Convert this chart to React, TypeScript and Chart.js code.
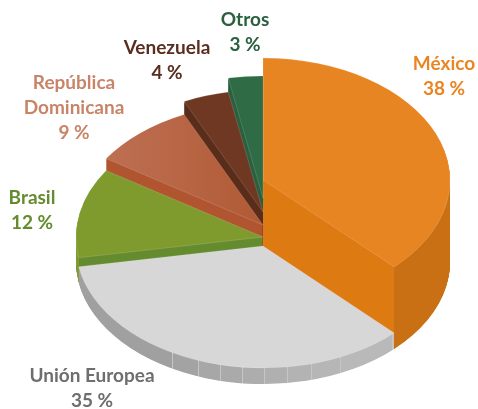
import { useEffect, useRef } from "react";
import { Chart, registerables } from "chart.js";

Chart.register(...registerables);

const categories: (string | string[])[] = ["México", "Unión Europea", "Brasil", ["República", "Dominicana"], "Venezuela", "Otros"];
const shares = [38, 35, 12, 9, 4, 3];
const shareLabels = ["38 %", "35 %", "12 %", "9 %", "4 %", "3 %"];

const topColors = ["#E88523", "#D7D7D7", "#7F9B2E", "#B65F3C", "#6E3823", "#2F6B45"];
const wallColors = ["#DD7A12", "#B0B0B0", "#648C2E", "#B05530", "#5A2D1A", "#2A6040"];
const rimColors = ["#C97014", "#B0B0B0", "#7F9B2E", "#B05530", "#5A2D1A", "#2A6040"];
const labelColors = ["#EB8523", "#6E6E6E", "#648C2E", "#C98468", "#5A2D1E", "#2A6040"];

// Styling of the stepped 3D look
const sliceHeights = [82, 16, 25, 37, 50, 64];
const drawOrder = [0, 5, 4, 3, 2, 1];
const labelCentres = [[444, 64], [92, 376], [32, 198], [74, 83], [167, 48], [245, 20]];
const LINE_GAP = 25;
const BASE_Y = 262;
const RADIUS = 187;
const SQUASH = 122 / 187;
const W = 478;
const H = 409;

function rimGradient(ctx: CanvasRenderingContext2D, i: number, edgeX: number) {
  const g = ctx.createLinearGradient(0, 0, W, 0);
  if (i === 1) {
    const facets = [77, 173, 199, 221, 243, 265, 288, 312, 341, 393];
    const greys = [160, 163, 167, 170, 173, 176, 179, 182, 185];
    for (let k = 0; k < greys.length; k++) {
      const c = `rgb(${greys[k]},${greys[k]},${greys[k]})`;
      g.addColorStop(facets[k] / W, c);
      g.addColorStop((facets[k + 1] - 0.8) / W, c);
      g.addColorStop((facets[k + 1] - 0.8) / W, "#C6C6C6");
      g.addColorStop(facets[k + 1] / W, "#C6C6C6");
    }
    return g;
  }
  const t = edgeX / W;
  // México shows its flat wall left of the edge, Brasil right of it
  const [a, b] = i === 0 ? [wallColors[i], rimColors[i]] : [rimColors[i], wallColors[i]];
  g.addColorStop(0, a);
  g.addColorStop(t, a);
  g.addColorStop(t, b);
  g.addColorStop(1, b);
  return g;
}

const stepped3d = {
  id: "stepped3d",
  beforeDatasetsDraw(chart: any) {
    const ctx: CanvasRenderingContext2D = chart.ctx;
    const arcs = chart.getDatasetMeta(0).data;
    for (const i of drawOrder) {
      const arc = arcs[i];
      const saved = arc.options;
      const angle = i === 0 ? arc.endAngle : arc.startAngle;
      const edgeX = arc.x + RADIUS * Math.cos(angle);
      const top = BASE_Y - sliceHeights[i];
      arc.options = { ...saved, backgroundColor: rimGradient(ctx, i, edgeX), borderWidth: 0 };
      for (let k = sliceHeights[i]; k >= 1; k -= 0.5) {
        ctx.save();
        ctx.translate(0, top + k);
        ctx.scale(1, SQUASH);
        ctx.translate(0, -arc.y);
        arc.draw(ctx);
        ctx.restore();
      }
      arc.options = saved;
      ctx.save();
      ctx.translate(0, top);
      ctx.scale(1, SQUASH);
      ctx.translate(0, -arc.y);
      arc.draw(ctx);
      ctx.restore();
    }
    return false;
  },
  afterDraw(chart: any) {
    const ctx: CanvasRenderingContext2D = chart.ctx;
    ctx.save();
    ctx.font = "bold 19px Lato";
    ctx.textAlign = "center";
    ctx.textBaseline = "middle";
    categories.forEach((c, i) => {
      const lines = [...(Array.isArray(c) ? c : [c]), shareLabels[i]];
      ctx.fillStyle = labelColors[i];
      lines.forEach((line, n) => {
        ctx.fillText(line, labelCentres[i][0], labelCentres[i][1] + n * LINE_GAP);
      });
    });
    ctx.restore();
  },
};

export default function App() {
  const ref = useRef<HTMLCanvasElement>(null);
  useEffect(() => {
    document.body.style.margin = "0";
    const canvas = ref.current!;
    const ctx = canvas.getContext("2d")!;
    const rdTop = ctx.createLinearGradient(112, 0, 263, 0);
    rdTop.addColorStop(0, "#BD6F52");
    rdTop.addColorStop(1, "#B15A35");
    const colors: any[] = [...topColors];
    colors[3] = rdTop;
    const chart = new Chart(canvas, {
      type: "pie",
      data: {
        labels: categories as any,
        datasets: [{ data: shares, backgroundColor: colors, borderColor: "rgba(255,255,255,0.3)", borderWidth: 0.6 }],
      },
      options: {
        responsive: false,
        animation: false,
        radius: RADIUS,
        layout: { padding: { left: 48 } },
        plugins: { legend: { display: false }, tooltip: { enabled: false } },
      } as any,
      plugins: [stepped3d as any],
    });
    return () => chart.destroy();
  }, []);
  return <canvas ref={ref} width={W} height={H} style={{ display: "block", width: W, height: H }} />;
}
